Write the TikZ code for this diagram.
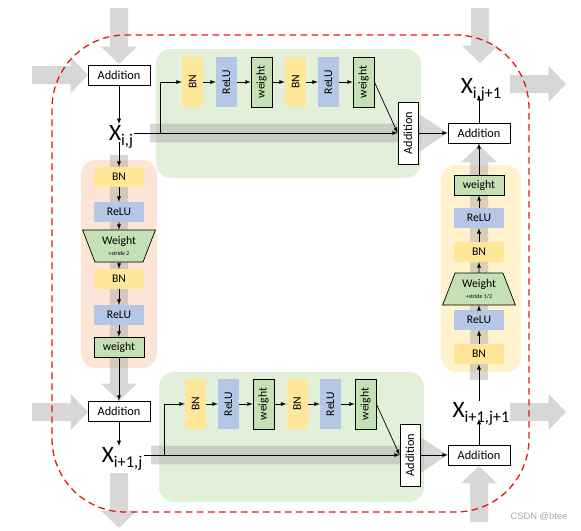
\documentclass[tikz,border=0pt]{standalone}
\usepackage{fontspec}
\setmainfont{Carlito}
\newfontfamily\markfont{Liberation Sans}
\usetikzlibrary{shapes.geometric,arrows.meta}
\definecolor{bnfill}{RGB}{255,230,153}
\definecolor{relufill}{RGB}{180,199,231}
\definecolor{weightfill}{RGB}{197,224,180}
\definecolor{greenpanel}{RGB}{226,240,217}
\definecolor{orangepanel}{RGB}{251,229,214}
\definecolor{yellowpanel}{RGB}{255,242,204}
\definecolor{arrowgray}{RGB}{160,160,160}
\definecolor{dashred}{RGB}{235,20,20}
\tikzstyle{block}=[minimum width=1.5cm, minimum height=.6cm, inner sep=0pt, font=\fontsize{10}{12}\selectfont]
\tikzstyle{vblock}=[minimum width=.63cm, minimum height=1.5cm, inner sep=0pt, font=\fontsize{10}{12}\selectfont]
\tikzset{bn/.style={block, fill=bnfill}}
\tikzset{relu/.style={block, fill=relufill}}
\tikzset{wgt/.style={block, fill=weightfill, draw, line width=.6pt}}
\tikzset{vbn/.style={vblock, fill=bnfill}}
\tikzset{vrelu/.style={vblock, fill=relufill}}
\tikzset{vwgt/.style={vblock, fill=weightfill, draw, line width=.6pt}}
\tikzset{strided/.style={trapezium, trapezium stretches=true, trapezium angle=65,
    minimum width=2.19cm, minimum height=.96cm, inner sep=0pt, fill=weightfill, draw,
    line width=.6pt, align=center, font=\fontsize{10}{11}\selectfont}}
\tikzstyle{addition}=[draw, fill=white, line width=.6pt, minimum width=1.86cm, minimum height=.6cm, inner sep=0pt, font=\fontsize{10.5}{12}\selectfont]
\tikzstyle{vaddition}=[draw, fill=white, line width=.6pt, minimum width=.6cm, minimum height=1.86cm, inner sep=0pt, font=\fontsize{10.5}{12}\selectfont]
\tikzset{xstate/.style={inner sep=1pt, font=\fontsize{20}{22}\selectfont}}
\tikzset{panel/.style={rounded corners=.45cm}}
\tikzset{bigarrow/.style={draw=arrowgray, line width=.54cm, -{Triangle[width=1.05cm,length=.52cm]}}}
\tikzset{bigband/.style={draw=arrowgray, line width=.56cm, -{Triangle[width=1.05cm,length=.85cm]}}}
\tikzset{flow/.style={-latex, line width=.6pt}}
\newcommand{\xsub}[1]{X\raisebox{-4pt}[0pt][0pt]{\fontsize{14}{15}\selectfont #1}}
\newcommand{\vtext}[1]{\rotatebox{90}{#1}}

\begin{document}
\begin{tikzpicture}[x=0.03cm,y=-0.03cm]
  \useasboundingbox (0,0) rectangle (581,531);

  %% panels
  \fill[panel, greenpanel] (156,49) rectangle (421,178);
  \fill[panel, greenpanel] (159,372) rectangle (424,502);
  \fill[panel, orangepanel] (81,160) rectangle (157,368);
  \fill[panel, yellowpanel] (441,165) rectangle (521,372);

  %% big gray arrows
  \begin{scope}[transparency group, opacity=.42]
    \draw[bigarrow] (119,8) -- (119,64);
    \draw[bigarrow] (32,75) -- (88,75);
    \draw[bigarrow] (480,8) -- (480,63);
    \draw[bigarrow] (510,84) -- (566,84);
    \draw[bigarrow] (32,412) -- (88,412);
    \draw[bigarrow] (510,412) -- (566,412);
    \draw[bigarrow] (119,473) -- (119,528);
    \draw[bigarrow] (479,522) -- (479,466);
    \draw[bigarrow] (119,155) -- (119,401);
    \draw[bigarrow] (479,380) -- (479,145);
    \draw[bigband] (150,133) -- (448,133);
    \draw[bigband] (151,455) -- (448,455);
  \end{scope}

  \draw[dashred, dash pattern=on .2cm off .13cm, line width=1.1pt, rounded corners=2.2cm] (52,35) rectangle (529,512);

  %% additions and states
  \draw (119,75) node[addition] (A1) {Addition};
  \draw (479,133) node[addition] (A2) {Addition};
  \draw (119,411) node[addition] (A3) {Addition};
  \draw (479,455) node[addition] (A4) {Addition};
  \draw (408,133) node[vaddition] (V1) {\vtext{Addition}};
  \draw (410,455) node[vaddition] (V2) {\vtext{Addition}};

  \draw (121,133) node[xstate] (X11) {\xsub{i,j}};
  \draw (481,86) node[xstate] (X12) {\xsub{i,j+1}};
  \draw (122,455) node[xstate] (X21) {\xsub{i+1,j}};
  \draw (481,410) node[xstate] (X22) {\xsub{i+1,j+1}};

  %% top residual branch
  \draw (192.5,82) node[vbn] (T1) {\vtext{BN}};
  \draw (226.5,82) node[vrelu] (T2) {\vtext{ReLU}};
  \draw (261.5,82) node[vwgt] (T3) {\vtext{weight}};
  \draw (295.5,82) node[vbn] (T4) {\vtext{BN}};
  \draw (328.5,82) node[vrelu] (T5) {\vtext{ReLU}};
  \draw (363.5,82) node[vwgt] (T6) {\vtext{weight}};

  %% bottom residual branch
  \draw (195.5,404) node[vbn] (B1) {\vtext{BN}};
  \draw (228.5,404) node[vrelu] (B2) {\vtext{ReLU}};
  \draw (263.5,404) node[vwgt] (B3) {\vtext{weight}};
  \draw (297,404) node[vbn] (B4) {\vtext{BN}};
  \draw (330.5,404) node[vrelu] (B5) {\vtext{ReLU}};
  \draw (365.5,404) node[vwgt] (B6) {\vtext{weight}};

  %% down sampling
  \draw (119,177) node[bn] (L1) {BN};
  \draw (119,212) node[relu] (L2) {ReLU};
  \draw (119,246) node[strided, shape border rotate=180] (L3) {Weight\\[-2pt]{\fontsize{5}{6}\selectfont +stride 2}};
  \draw (119,279) node[bn] (L4) {BN};
  \draw (119,315) node[relu] (L5) {ReLU};
  \draw (119,347) node[wgt] (L6) {weight};

  %% up sampling
  \draw (479,354) node[bn] (R1) {BN};
  \draw (479,320) node[relu] (R2) {ReLU};
  \draw (479,289) node[strided] (R3) {Weight\\[-2pt]{\fontsize{5}{6}\selectfont +stride 1/2}};
  \draw (479,252) node[bn] (R4) {BN};
  \draw (479,218) node[relu] (R5) {ReLU};
  \draw (479,185) node[wgt] (R6) {weight};

  \coordinate (J1) at (160,133);
  \coordinate (J2) at (164,455);

  %% connections
  \draw[flow] (A1) -- (A1 |- X11.north);
  \draw[flow] (L1 |- X11.south) -- (L1);
  \draw[flow] (L1) -- (L2);
  \draw[flow] (L2) -- (L3);
  \draw[flow] (L3) -- (L4);
  \draw[flow] (L4) -- (L5);
  \draw[flow] (L5) -- (L6);
  \draw[flow] (L6) -- (A3);
  \draw[flow] (A3) -- (A3 |- X21.north);

  \draw[line width=.6pt] (X11) -- (J1);
  \draw[flow] (J1) |- (T1);
  \draw[flow] (T1) -- (T2);
  \draw[flow] (T2) -- (T3);
  \draw[flow] (T3) -- (T4);
  \draw[flow] (T4) -- (T5);
  \draw[flow] (T5) -- (T6);
  \draw[flow] (T6.east) -- (V1.west);
  \draw[flow] (X11) -- (V1);
  \draw[flow] (V1) -- (A2);
  \draw[flow] (A2) -- (A2 |- X12.south);

  \draw[line width=.6pt] (X21) -- (J2);
  \draw[flow] (J2) |- (B1);
  \draw[flow] (B1) -- (B2);
  \draw[flow] (B2) -- (B3);
  \draw[flow] (B3) -- (B4);
  \draw[flow] (B4) -- (B5);
  \draw[flow] (B5) -- (B6);
  \draw[flow] (B6.east) -- (V2.west);
  \draw[flow] (X21) -- (V2);
  \draw[flow] (V2) -- (A4);
  \draw[flow] (A4) -- (A4 |- X22.south);

  \draw[flow] (R1 |- X22.north) -- (R1);
  \draw[flow] (R1) -- (R2);
  \draw[flow] (R2) -- (R3);
  \draw[flow] (R3) -- (R4);
  \draw[flow] (R4) -- (R5);
  \draw[flow] (R5) -- (R6);
  \draw[flow] (R6) -- (A2);

  \draw (539,517) node[text=black!35, font=\markfont\fontsize{8}{9}\selectfont] (W) {CSDN @btee};
\end{tikzpicture}
\end{document}
